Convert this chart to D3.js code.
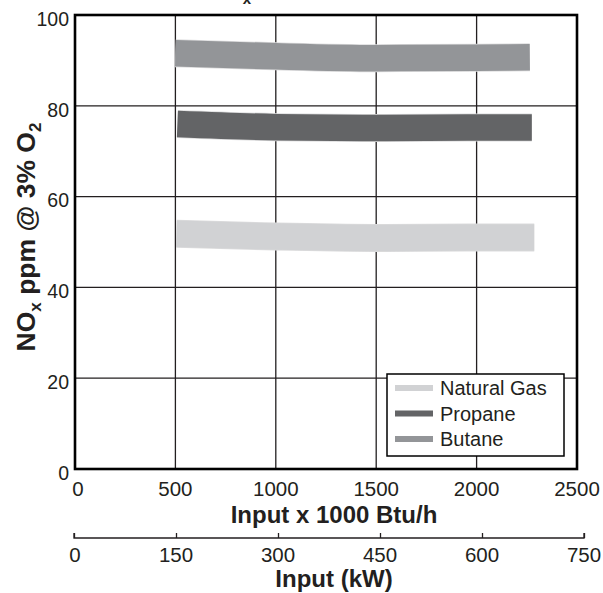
<!DOCTYPE html>
<html>
<head>
<meta charset="utf-8">
<script src="https://cdn.jsdelivr.net/npm/d3@7"></script>
<style>
  body { margin: 0; background: #fff; }
  text { font-family: 'Liberation Sans', Arial, sans-serif; fill: #231f20; }
</style>
</head>
<body>
<div id="chart"></div>
<script>
// data (x in 1000 Btu/h, y in ppm)
const natGasX = [505, 1000, 1500, 2000, 2287];
const natGasY = [51.8, 51.2, 50.9, 51.0, 51.0];
const propaneX = [510, 1000, 1500, 2000, 2275];
const propaneY = [76.0, 75.3, 75.1, 75.2, 75.2];
const butaneX = [500, 1000, 1500, 2000, 2265];
const butaneY = [91.6, 90.9, 90.5, 90.6, 90.7];

const seriesNames = ['Natural Gas', 'Propane', 'Butane'];
const seriesColors = ['#d1d2d4', '#636466', '#939598'];

const xTicks = [0, 500, 1000, 1500, 2000, 2500];
const yTicks = [0, 20, 40, 60, 80, 100];
const kwTicks = [0, 150, 300, 450, 600, 750];

const width = 603, height = 593;
const margin = { top: 15, right: 26, bottom: 124, left: 75 };

const svg = d3
  .select('#chart')
  .append('svg')
  .attr('width', width)
  .attr('height', height);

const x = d3.scaleLinear().domain([0, 2500]).range([margin.left, width - margin.right]);
const y = d3.scaleLinear().domain([0, 100]).range([height - margin.bottom, margin.top]);
const xKw = d3.scaleLinear().domain([0, 750]).range([74, 584]);

// grid
const g = svg.append('g');
g.selectAll('.vgrid')
  .data(xTicks.slice(1, -1))
  .enter()
  .append('line')
  .attr('x1', (d) => x(d))
  .attr('x2', (d) => x(d))
  .attr('y1', y(0))
  .attr('y2', y(100))
  .style('stroke', '#231f20')
  .style('stroke-width', 1.3);
g.selectAll('.hgrid')
  .data(yTicks.slice(1, -1))
  .enter()
  .append('line')
  .attr('x1', x(0))
  .attr('x2', x(2500))
  .attr('y1', (d) => y(d))
  .attr('y2', (d) => y(d))
  .style('stroke', '#231f20')
  .style('stroke-width', 1.3);

// bands
const series = [
  { xs: natGasX, ys: natGasY },
  { xs: propaneX, ys: propaneY },
  { xs: butaneX, ys: butaneY },
];
const line = d3
  .line()
  .x((d) => x(d[0]))
  .y((d) => y(d[1]))
  .curve(d3.curveMonotoneX);

series.forEach((s, i) => {
  const pts = s.xs.map((v, j) => [v, s.ys[j]]);
  svg.append('path')
    .attr('d', line(pts))
    .style('fill', 'none')
    .style('stroke', '#dcdcdd')
    .style('stroke-width', 28);
  svg.append('path')
    .attr('d', line(pts))
    .style('fill', 'none')
    .style('stroke', seriesColors[i])
    .style('stroke-width', 26.5);
});

// frame
svg.append('rect')
  .attr('x', x(0))
  .attr('y', y(100))
  .attr('width', x(2500) - x(0))
  .attr('height', y(0) - y(100))
  .style('fill', 'none')
  .style('stroke', '#000')
  .style('stroke-width', 2.6);

// y tick labels
svg.selectAll('.ylab')
  .data(yTicks)
  .enter()
  .append('text')
  .attr('x', 69)
  .attr('y', (d) => y(d) + 4)
  .attr('dy', '.35em')
  .style('text-anchor', 'end')
  .style('font-size', '19.5px')
  .text((d) => d);

// x tick labels
svg.selectAll('.xlab')
  .data(xTicks)
  .enter()
  .append('text')
  .attr('x', (d) => x(d) + (d === 0 ? 3 : 0))
  .attr('y', 489)
  .attr('dy', '.35em')
  .style('text-anchor', 'middle')
  .style('font-size', '20.5px')
  .text((d) => d);

svg.append('text')
  .attr('x', 334)
  .attr('y', 515)
  .attr('dy', '.35em')
  .style('text-anchor', 'middle')
  .style('font-size', '24px')
  .style('font-weight', 'bold')
  .text('Input x 1000 Btu/h');

// second axis (kW)
const kwAxis = d3.axisTop(xKw).tickValues(kwTicks).tickSize(5).tickFormat('');
const kwG = svg.append('g').attr('transform', 'translate(0,538)').call(kwAxis);
kwG.select('.domain').attr('d', 'M' + xKw(0) + ',-5V0H' + xKw(750) + 'V-5')
  .style('stroke', '#231f20').style('stroke-width', 1.3);
kwG.selectAll('.tick line').style('stroke', '#231f20').style('stroke-width', 1.3);

svg.selectAll('.kwlab')
  .data(kwTicks)
  .enter()
  .append('text')
  .attr('x', (d) => xKw(d) + (d === 0 ? 1 : 0))
  .attr('y', 555)
  .attr('dy', '.35em')
  .style('text-anchor', 'middle')
  .style('font-size', '20.5px')
  .text((d) => d);

svg.append('text')
  .attr('x', 334)
  .attr('y', 579)
  .attr('dy', '.35em')
  .style('text-anchor', 'middle')
  .style('font-size', '24px')
  .style('font-weight', 'bold')
  .text('Input (kW)');

// y axis title
const yt = svg.append('text')
  .attr('transform', 'translate(35,237) rotate(-90)')
  .style('text-anchor', 'middle')
  .style('font-size', '26.5px')
  .style('font-weight', 'bold');
yt.append('tspan').text('NO');
yt.append('tspan').attr('dy', 6).style('font-size', '17px').text('x');
yt.append('tspan').attr('dy', -6).text(' ppm @ 3% O');
yt.append('tspan').attr('dy', 6).style('font-size', '17px').text('2');

// chart title, mostly above the top edge
const tt = svg.append('text')
  .attr('x', 251)
  .attr('y', -3)
  .style('text-anchor', 'end')
  .style('font-size', '24px')
  .style('font-weight', 'bold');
tt.append('tspan').text('NO');
tt.append('tspan').attr('dy', 7).style('font-size', '15px').text('x');

// legend
const leg = svg.append('g').attr('transform', 'translate(387,374)');
leg.append('rect')
  .attr('width', 177)
  .attr('height', 82)
  .style('fill', '#fff')
  .style('stroke', '#000')
  .style('stroke-width', 1.5);
seriesNames.forEach((name, i) => {
  const yy = 14 + i * 25.5;
  leg.append('line')
    .attr('x1', 8)
    .attr('x2', 46)
    .attr('y1', yy)
    .attr('y2', yy)
    .style('stroke', seriesColors[i])
    .style('stroke-width', 6);
  leg.append('text')
    .attr('x', 53)
    .attr('y', yy)
    .attr('dy', '.35em')
    .style('font-size', '20px')
    .text(name);
});
</script>
</body>
</html>
